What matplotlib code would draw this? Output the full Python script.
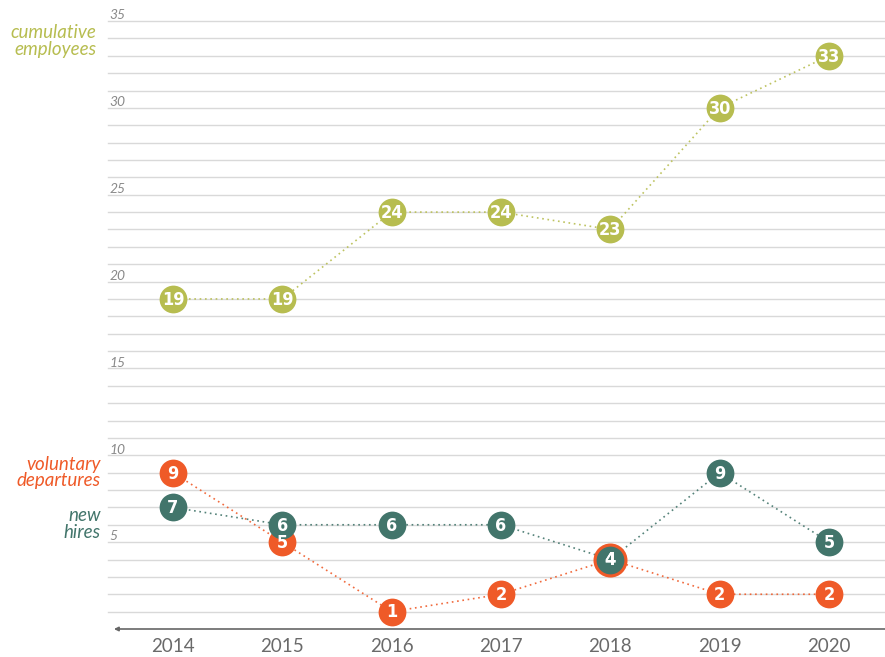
import matplotlib
matplotlib.use("Agg")
import matplotlib.pyplot as plt

years = [2014, 2015, 2016, 2017, 2018, 2019, 2020]
cumulative = [19, 19, 24, 24, 23, 30, 33]
departures = [9, 5, 1, 2, 4, 2, 2]
hires = [7, 6, 6, 6, 4, 9, 5]
ytick_vals = [5, 10, 15, 20, 25, 30, 35]

C_CUM = "#b7bd50"
C_DEP = "#ef5a28"
C_HIR = "#42756b"
GRID = "#d9d9d9"
TXT = "#8a8a8a"

fig = plt.figure(figsize=(8.85, 6.57), dpi=100)
ax = fig.add_axes([0, 0, 1, 1])
ax.set_xlim(2012.418, 2020.512)
ax.set_ylim(-1.612, 36.21)
ax.axis("off")

# grid lines
for v in range(1, 36):
    ax.plot([2013.405, 2020.6], [v, v], color=GRID, lw=1.0, zorder=1)
# base axis with arrow
ax.annotate("", xy=(2013.46, 0), xytext=(2020.6, 0),
            arrowprops=dict(arrowstyle="-|>", color="#666666", lw=1.2,
                            mutation_scale=6, shrinkA=0, shrinkB=0), zorder=2)

for v in ytick_vals:
    ax.text(2013.42, v - 0.02, str(v), fontsize=10, style="italic",
            color=TXT, ha="left", va="bottom", family="Lato")

for y in years:
    ax.text(y, -1.0, str(y), fontsize=13.5, color="#6a6a6a", ha="center",
            va="center", family="Lato")

def series(vals, color, ms=20, z=5):
    ax.plot(years, vals, color=color, lw=1.2, ls=(0, (1, 2.2)), zorder=3, alpha=0.9)
    ax.plot(years, vals, ls="none", marker="o", ms=ms, color=color,
            markeredgewidth=0, zorder=z)

series(cumulative, C_CUM)
series(departures, C_DEP)
series(hires, C_HIR, z=6)
# overlap at 2018: orange ring around teal
i = years.index(2018)
ax.plot([years[i]], [departures[i]], marker="o", ms=24.5, color=C_DEP,
        markeredgewidth=0, ls="none", zorder=5.5)

def labels(vals, z):
    for x, v in zip(years, vals):
        ax.text(x, v - 0.05, str(v), color="white", fontsize=13,
                fontweight="bold", fontstretch="condensed",
                family="DejaVu Sans", ha="center", va="center", zorder=z)

labels(cumulative, 7)
labels(departures, 7)
labels(hires, 8)

ax.text(2013.3, 33.85, "cumulative\nemployees", color=C_CUM, fontsize=13.5,
        style="italic", ha="right", va="center", linespacing=0.95, family="Lato")
ax.text(2013.34, 9.0, "voluntary\ndepartures", color=C_DEP, fontsize=13.5,
        style="italic", ha="right", va="center", linespacing=0.95, family="Lato")
ax.text(2013.34, 6.05, "new\nhires", color=C_HIR, fontsize=13.5,
        style="italic", ha="right", va="center", linespacing=0.95, family="Lato")

fig.savefig("out.png", dpi=100)
